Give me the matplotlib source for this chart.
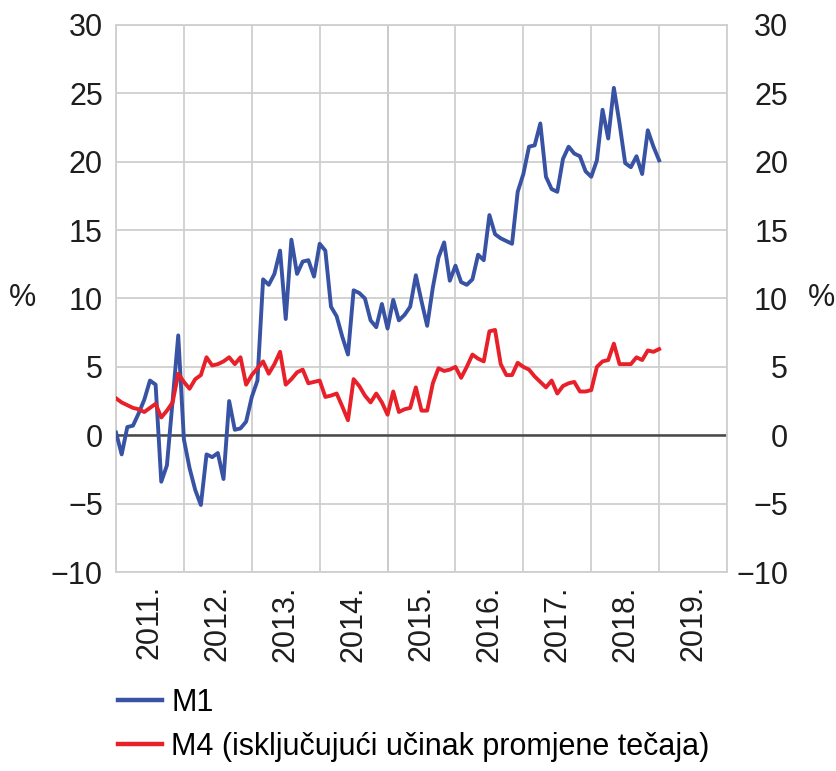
import matplotlib
matplotlib.use('Agg')
import matplotlib.pyplot as plt
import numpy as np

plt.rcParams['font.family'] = ['Liberation Sans', 'DejaVu Sans']

# monthly data, Jan 2011 .. Jan 2019 (annual rates of change, %)
m1 = [0.2, -1.4, 0.6, 0.7, 1.6, 2.6, 4.0, 3.7, -3.4, -2.2,
      2.5, 7.3, -0.3, -2.4, -4.0, -5.1, -1.4, -1.6, -1.3, -3.2,
      2.5, 0.4, 0.5, 1.0, 2.8, 4.0, 11.4, 11.0, 11.8, 13.5,
      8.5, 14.3, 11.8, 12.7, 12.8, 11.6, 14.0, 13.5, 9.4, 8.7,
      7.2, 5.9, 10.6, 10.4, 10.0, 8.4, 7.9, 9.6, 7.8, 9.9,
      8.4, 8.8, 9.4, 11.7, 9.8, 8.0, 10.8, 13.0, 14.1, 11.3,
      12.4, 11.2, 11.0, 11.4, 13.2, 12.8, 16.1, 14.7, 14.4, 14.2,
      14.0, 17.8, 19.1, 21.1, 21.2, 22.8, 18.9, 18.0, 17.8, 20.2,
      21.1, 20.6, 20.4, 19.3, 18.9, 20.1, 23.8, 21.7, 25.4, 22.8,
      19.9, 19.6, 20.4, 19.1, 22.3, 21.1, 20.1]
m4 = [2.7, 2.4, 2.2, 2.0, 1.9, 1.7, 2.0, 2.3, 1.3, 1.8,
      2.4, 4.5, 3.9, 3.4, 4.1, 4.4, 5.7, 5.1, 5.2, 5.4,
      5.7, 5.2, 5.7, 3.7, 4.4, 4.9, 5.4, 4.5, 5.2, 6.1,
      3.7, 4.1, 4.6, 4.8, 3.8, 3.9, 4.0, 2.8, 2.9, 3.05,
      2.1, 1.1, 4.1, 3.6, 2.9, 2.4, 3.05, 2.4, 1.5, 3.2,
      1.7, 1.9, 2.0, 3.5, 1.8, 1.8, 3.8, 4.9, 4.7, 4.8,
      5.0, 4.2, 5.0, 5.9, 5.6, 5.4, 7.6, 7.7, 5.2, 4.4,
      4.4, 5.3, 5.0, 4.8, 4.3, 3.9, 3.5, 4.0, 3.05, 3.6,
      3.8, 3.9, 3.2, 3.2, 3.3, 5.0, 5.4, 5.5, 6.7, 5.2,
      5.2, 5.2, 5.7, 5.5, 6.2, 6.1, 6.3]
years = [2011, 2012, 2013, 2014, 2015, 2016, 2017, 2018, 2019]
year_labels = [f"{y}." for y in years]

t = 2011 + np.arange(len(m1)) / 12.0

fig = plt.figure(figsize=(8.37, 7.71), dpi=100)
ax = fig.add_axes([0.1386, 0.2581, 0.7300, 0.7095])

grid_c = '#cfcfcf'
ax.set_xlim(2011, 2020)
ax.set_ylim(-10, 30)
ax.set_yticks(np.arange(-10, 31, 5))
ax.set_xticks(np.arange(2011, 2021))
ax.set_xticks(np.array(years) + 0.5, minor=True)
ax.set_xticklabels([])
ax.set_xticklabels(year_labels, minor=True, rotation=90)
ax.grid(True, which='major', color=grid_c, lw=1.3)
ax.set_axisbelow(True)
ax.axvline(2015, color='#a0a0a0', lw=1.3, zorder=0.5)
ax.axhline(0, color='#484848', lw=1.8, zorder=1)
for s in ax.spines.values():
    s.set_color(grid_c)
    s.set_linewidth(1.3)

ax.tick_params(which='both', length=0, labelsize=22, colors='#1e1e1e')
ax.tick_params(axis='y', pad=9.5)
ax.tick_params(axis='x', which='minor', pad=9.5)

ax.plot(t, m1, color='#3852a4', lw=2.8, label='M1', zorder=3)
ax.plot(t, m4, color='#e8202a', lw=2.8, label='M4 (isključujući učinak promjene tečaja)', zorder=3)

ax2 = ax.twinx()
ax2.set_ylim(-10, 30)
ax2.set_yticks(np.arange(-10, 31, 5))
ax2.tick_params(length=0, labelsize=22, colors='#1e1e1e', pad=44)
for lab in ax2.get_yticklabels():
    lab.set_horizontalalignment('right')
for s in ax2.spines.values():
    s.set_visible(False)

fig.text(23 / 837, 1 - 298 / 771, '%', fontsize=22, ha='center', va='center', color='#1e1e1e')
fig.text(822 / 837, 1 - 298 / 771, '%', fontsize=22, ha='center', va='center', color='#1e1e1e')

leg = ax.legend(loc='upper left', bbox_to_anchor=(118 / 837, 1 - 688 / 771),
                bbox_transform=fig.transFigure, frameon=False, fontsize=22,
                handlelength=1.45, handletextpad=0.3, borderpad=0, borderaxespad=0,
                labelspacing=0.45)
for ln in leg.get_lines():
    ln.set_linewidth(3.2)

fig.savefig('out.png', dpi=100)
